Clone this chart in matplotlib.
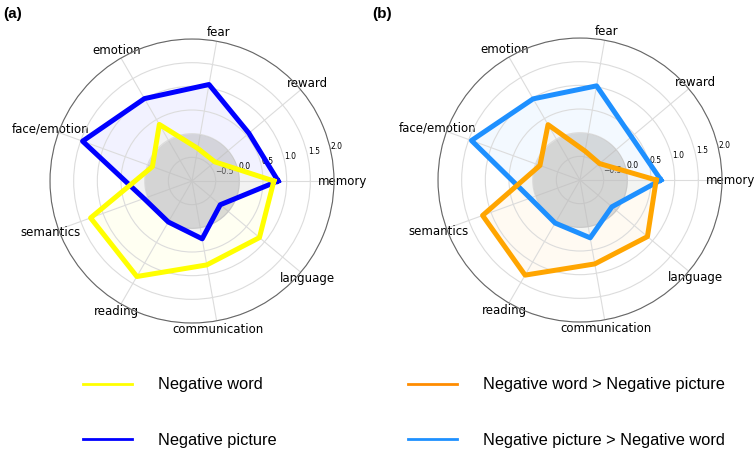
import numpy as np
import matplotlib
matplotlib.use('Agg')
import matplotlib.pyplot as plt
from matplotlib.lines import Line2D

# categories (counter-clockwise from 0 deg)
categories = ['memory', 'reward', 'fear', 'emotion', 'face/emotion',
              'semantics', 'reading', 'communication', 'language']

# panel (a)
neg_word = [0.73, -0.37, -0.30, 0.38, -0.11, 1.28, 1.33, 0.80, 0.86]
neg_picture = [0.82, 0.57, 1.07, 1.01, 1.46, 0.08, 0.00, 0.24, -0.22]

# panel (b)
word_gt_picture = [0.61, -0.46, -0.38, 0.35, -0.10, 1.19, 1.32, 0.80, 0.86]
picture_gt_word = [0.71, 0.42, 1.02, 0.98, 1.44, 0.12, 0.05, 0.24, -0.12]

rticks = [-0.5, 0.0, 0.5, 1.0, 1.5, 2.0]

fig = plt.figure(figsize=(7.55, 4.51), dpi=100)

angles = np.linspace(0, 2 * np.pi, len(categories), endpoint=False)
ang_closed = np.append(angles, angles[0])


def radar(ax, series):
    ax.set_ylim(-1, 2)
    ax.set_yticks(rticks)
    ax.tick_params(axis='y', labelsize=5.5)
    ax.set_rlabel_position(12)
    ax.set_xticks(angles)
    ax.set_xticklabels(categories, fontsize=8.5)
    ax.tick_params(axis='x', pad=-4)
    ax.grid(color='#dcdcdc', linewidth=0.8)
    ax.spines['polar'].set_color('#666666')
    ax.spines['polar'].set_linewidth(0.8)
    # grey disc for negative values
    t = np.linspace(0, 2 * np.pi, 200)
    ax.fill_between(t, -1, 0, color='#b0b0b0', alpha=0.45, zorder=2,
                    linewidth=0)
    for vals, col in series:
        v = np.append(vals, vals[0])
        ax.fill(ang_closed, v, color=col, alpha=0.05, zorder=1)
        ax.plot(ang_closed, v, color=col, linewidth=3.6, zorder=3)


ax1 = fig.add_axes([0.0662, 0.2838, 0.3762, 0.6297], projection='polar')
radar(ax1, [(neg_picture, 'blue'), (neg_word, 'yellow')])

ax2 = fig.add_axes([0.5801, 0.2860, 0.3762, 0.6297], projection='polar')
radar(ax2, [(picture_gt_word, 'dodgerblue'), (word_gt_picture, 'orange')])

fig.text(0.004, 0.985, '(a)', fontsize=11, fontweight='bold',
         family='Liberation Sans', va='top')
fig.text(0.493, 0.985, '(b)', fontsize=11, fontweight='bold',
         family='Liberation Sans', va='top')

leg_font = {'family': 'Liberation Sans', 'size': 11.8}
h_left = [Line2D([], [], color='yellow', lw=2.0),
          Line2D([], [], color='blue', lw=2.0)]
h_right = [Line2D([], [], color='darkorange', lw=2.0),
           Line2D([], [], color='dodgerblue', lw=2.0)]
fig.legend(h_left, ['Negative word', 'Negative picture'],
           loc='upper left', bbox_to_anchor=(0.110, 0.163), frameon=False,
           prop=leg_font, handlelength=3.0, handletextpad=1.6,
           labelspacing=2.45, borderpad=0, borderaxespad=0)
fig.legend(h_right, ['Negative word > Negative picture',
                     'Negative picture > Negative word'],
           loc='upper left', bbox_to_anchor=(0.540, 0.163), frameon=False,
           prop=leg_font, handlelength=3.0, handletextpad=1.6,
           labelspacing=2.45, borderpad=0, borderaxespad=0)

fig.savefig('out.png', dpi=100)
